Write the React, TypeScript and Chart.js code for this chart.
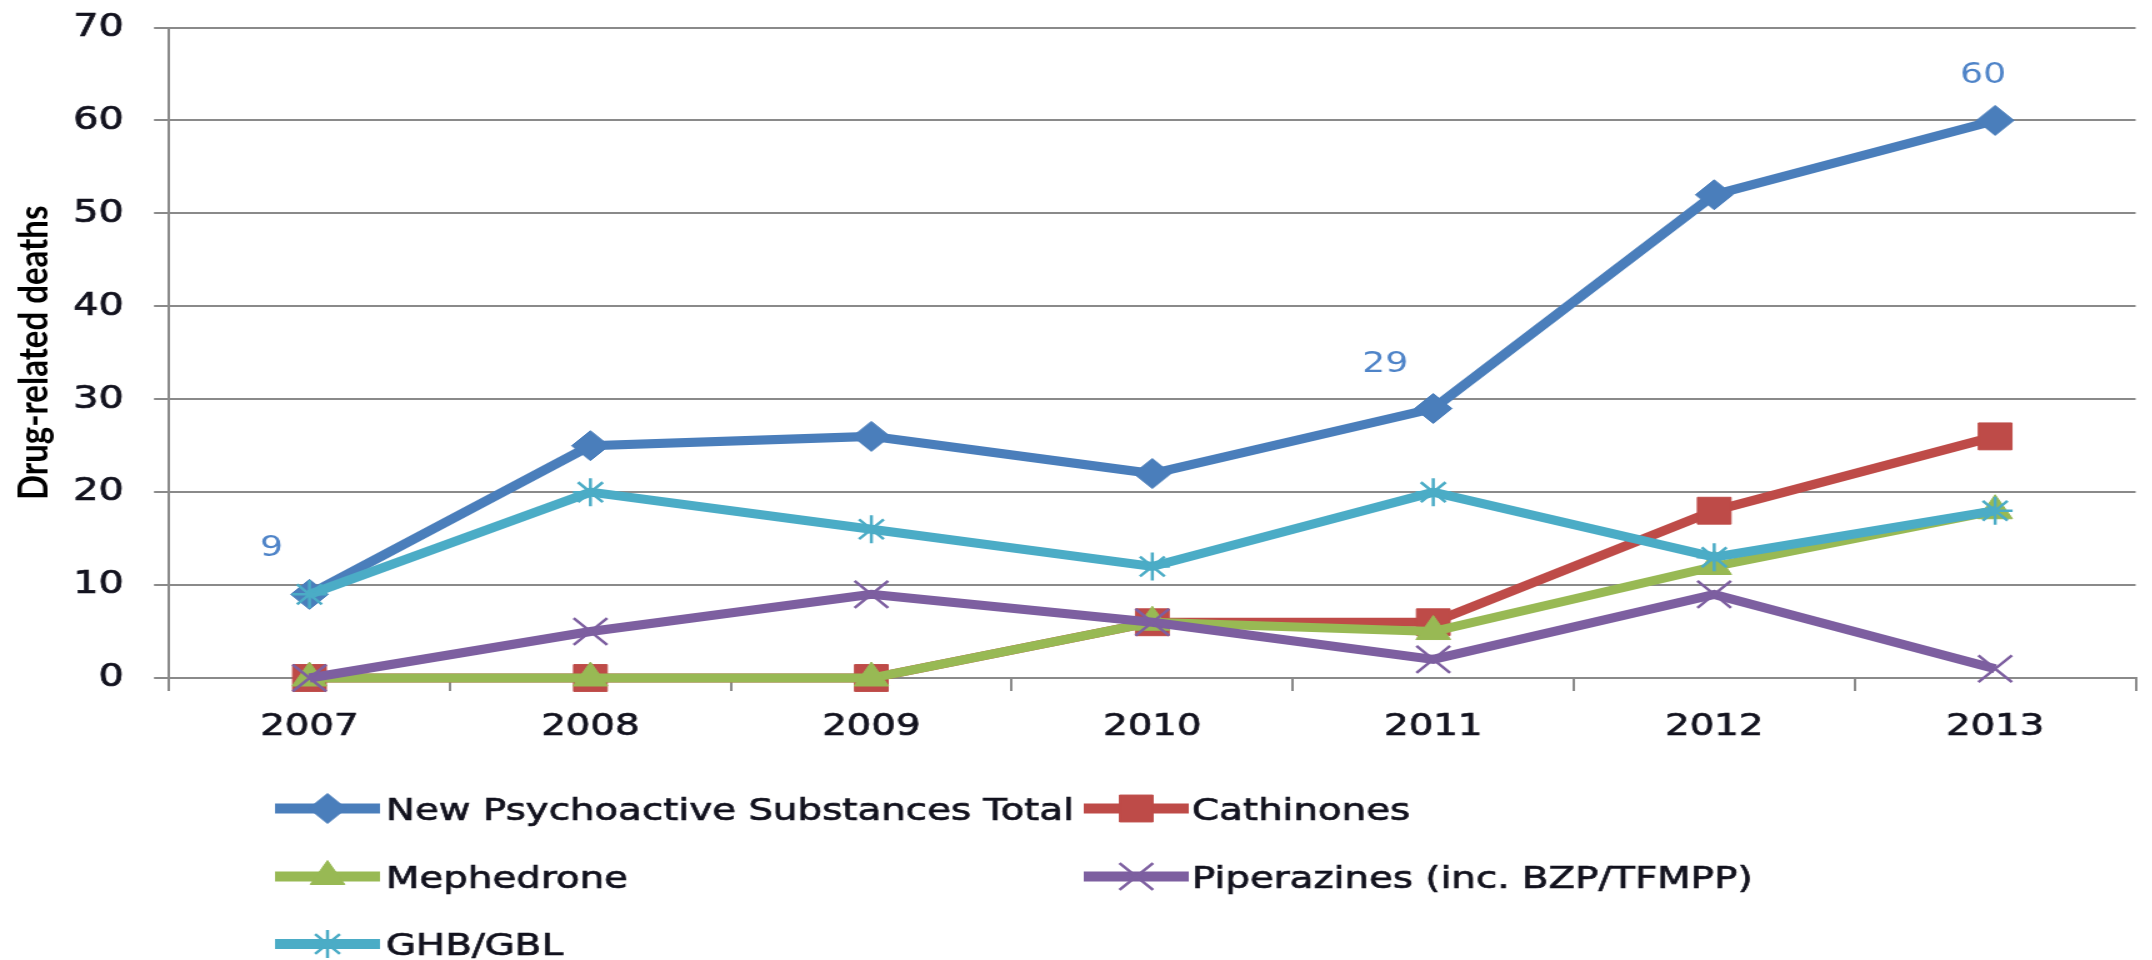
import React, { useEffect, useRef } from 'react';
import { Chart, registerables } from 'chart.js';
import { drawPoint } from 'chart.js/helpers';

Chart.register(...registerables);

// ---- data ----
const years = ['2007', '2008', '2009', '2010', '2011', '2012', '2013'];
const seriesNames = [
  'New Psychoactive Substances Total',
  'Cathinones',
  'Mephedrone',
  'Piperazines (inc. BZP/TFMPP)',
  'GHB/GBL',
];
const totalNPS = [9, 25, 26, 22, 29, 52, 60];
const cathinones = [0, 0, 0, 6, 6, 18, 26];
const mephedrone = [0, 0, 0, 6, 5, 12, 18];
const piperazines = [0, 5, 9, 6, 2, 9, 1];
const ghbGbl = [9, 20, 16, 12, 20, 13, 18];
const yMin = 0;
const yMax = 70;
const yStep = 10;
const labelledYears = ['2007', '2011', '2013'];

// ---- styling ----
const S = 1.25; // horizontal stretch of the whole picture
const IW = 1730; // internal canvas width
const GRID = '#8a8a8a';
const TXT = '#12121e';
const TICK_FONT = 'DejaVu Sans';
const STROKE_W = 0.7;
const colors = ['#4a7ebb', '#be4b48', '#98b954', '#7d5fa0', '#4bacc6'];
const styles: any[] = ['rectRot', 'rect', 'triangle', 'crossRot', 'star'];
const radii = [15, 19, 16, 19, 14];
const pBorder = [1, 1, 1, 2.5, 2.5];
const seriesData = [totalNPS, cathinones, mephedrone, piperazines, ghbGbl];

const legendPlugin = {
  id: 'xlLegend',
  afterDraw(chart: any) {
    const ctx = chart.ctx;
    const iconX = [220, 867];
    const textX = [308.8, 953.6];
    const rowY = [808.5, 876.5, 944];
    const fs = 31;
    ctx.save();
    chart.data.datasets.forEach((ds: any, i: number) => {
      const col = i % 2;
      const row = Math.floor(i / 2);
      const x0 = iconX[col];
      const y = rowY[row];
      ctx.strokeStyle = ds.borderColor;
      ctx.lineWidth = 10;
      ctx.lineCap = 'butt';
      ctx.beginPath();
      ctx.moveTo(x0, y);
      ctx.lineTo(x0 + 84, y);
      ctx.stroke();
      const el = chart.getDatasetMeta(i).data[0];
      const o = el.options;
      ctx.fillStyle = o.backgroundColor;
      ctx.strokeStyle = o.borderColor;
      ctx.lineWidth = o.borderWidth;
      drawPoint(ctx, { pointStyle: o.pointStyle, rotation: 0, radius: o.radius, borderWidth: o.borderWidth }, x0 + 42, y);
      ctx.fillStyle = TXT;
      ctx.strokeStyle = TXT;
      ctx.lineWidth = STROKE_W;
      ctx.font = `${fs}px "${TICK_FONT}"`;
      ctx.textAlign = 'left';
      ctx.textBaseline = 'alphabetic';
      const ty = y + fs * 0.729 / 2;
      ctx.fillText(ds.label, textX[col], ty);
      ctx.strokeText(ds.label, textX[col], ty);
    });
    ctx.restore();
  },
};

const labelOffsets: Record<string, [number, number]> = {
  '2007': [-30.4, -49],
  '2011': [-38.4, -47.5],
  '2013': [-9.6, -48],
};

const valueLabelPlugin = {
  id: 'valueLabels',
  afterDatasetsDraw(chart: any) {
    const ctx = chart.ctx;
    const meta = chart.getDatasetMeta(0);
    const fs = 29;
    ctx.save();
    ctx.fillStyle = '#4f84c8';
    ctx.font = `${fs}px "${TICK_FONT}"`;
    ctx.textAlign = 'center';
    ctx.textBaseline = 'alphabetic';
    labelledYears.forEach((yr) => {
      const idx = years.indexOf(yr);
      const pt = meta.data[idx];
      const off = labelOffsets[yr] || [0, -45];
      ctx.fillText(String(totalNPS[idx]), pt.x + off[0], pt.y + off[1] + fs * 0.729 / 2);
    });
    ctx.restore();
  },
};

export default function App() {
  const ref = useRef<HTMLCanvasElement>(null);
  useEffect(() => {
    const datasets = seriesNames.map((name, i) => ({
      label: name,
      data: seriesData[i],
      borderColor: colors[i],
      backgroundColor: colors[i],
      borderWidth: 9,
      pointStyle: styles[i],
      pointRadius: radii[i],
      pointBorderWidth: pBorder[i],
      pointBackgroundColor: colors[i],
      pointBorderColor: colors[i],
      tension: 0,
      clip: false as any,
      order: seriesNames.length - i,
    }));
    const chart = new Chart(ref.current!, {
      type: 'line',
      data: { labels: years, datasets },
      options: {
        animation: false,
        responsive: true,
        maintainAspectRatio: false,
        events: [],
        layout: { padding: { left: 0, right: IW - 2157 / S, top: 27.5, bottom: 960 - 678 - 70 } },
        plugins: { legend: { display: false }, tooltip: { enabled: false } },
        scales: {
          x: {
            type: 'category',
            offset: true,
            grid: { offset: true, drawOnChartArea: false, drawTicks: true, tickLength: 13, color: GRID, lineWidth: 2 },
            border: { display: true, color: GRID, width: 2 },
            ticks: {
              color: TXT,
              textStrokeColor: TXT,
              textStrokeWidth: STROKE_W,
              font: { family: TICK_FONT, size: 31 },
              padding: 17,
              maxRotation: 0,
              autoSkip: false,
            },
            afterFit: (s: any) => {
              s.height = 70;
              s.paddingLeft = 0;
              s.paddingRight = 0;
            },
          },
          y: {
            min: yMin,
            max: yMax,
            ticks: {
              stepSize: yStep,
              color: TXT,
              textStrokeColor: TXT,
              textStrokeWidth: STROKE_W,
              font: { family: TICK_FONT, size: 32 },
              padding: 24,
            },
            grid: { color: GRID, lineWidth: 2, tickLength: 12, drawTicks: true },
            border: { display: true, color: GRID, width: 2 },
            title: {
              display: true,
              text: 'Drug-related deaths',
              color: '#000',
              font: { family: 'Lato', size: 33, weight: 'bold' },
              padding: { top: 7.4, bottom: 0 },
            },
            afterFit: (s: any) => {
              s.width = 169 / S;
              s.paddingTop = 0;
              s.paddingBottom = 0;
            },
          },
        },
      },
      plugins: [valueLabelPlugin, legendPlugin],
    } as any);
    return () => chart.destroy();
  }, []);
  return (
    <div style={{ position: 'fixed', left: 0, top: 0, width: 2152, height: 960, overflow: 'hidden', background: '#fff' }}>
      <div style={{ position: 'absolute', left: 0, top: 0, width: IW, height: 960, transform: `scaleX(${S})`, transformOrigin: '0 0' }}>
        <canvas ref={ref} />
      </div>
    </div>
  );
}
